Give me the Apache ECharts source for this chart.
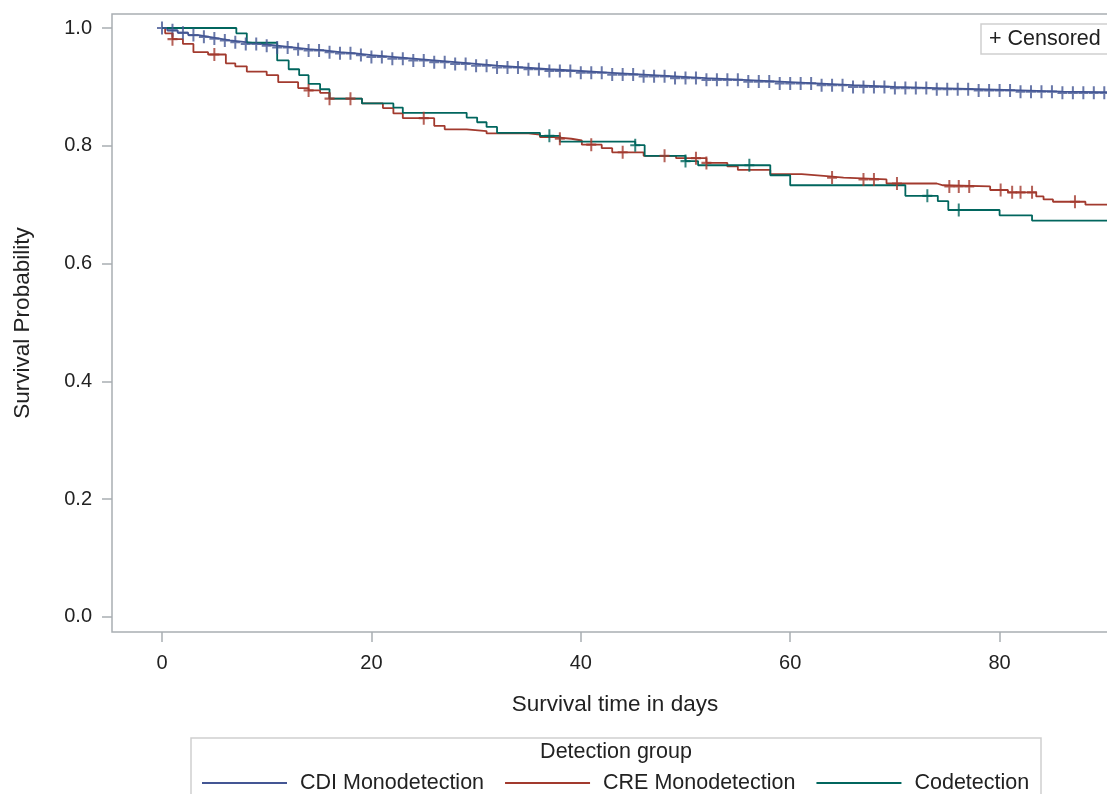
<!DOCTYPE html>
<html>
<head>
<meta charset="utf-8">
<script src="https://cdn.jsdelivr.net/npm/echarts@6/dist/echarts.min.js"></script>
<style>
  html, body { margin: 0; padding: 0; overflow: hidden; background: #fff; }
  #chart { width: 1230px; height: 794px; }
</style>
</head>
<body>
<div id="chart"></div>
<script>
// Kaplan-Meier step values (time in days, survival after the step)
const groups = ['CDI Monodetection', 'CRE Monodetection', 'Codetection']

const cdiTimes = [0, 0.5, 1.5, 2.5, 3.5, 4.5, 5.5, 6.5, 8, 9.5, 11, 12.5, 14, 15.5, 17, 18.5, 20, 22, 24, 26, 28, 30, 32, 34.5, 37, 40, 43, 46, 49, 52, 55.5, 59, 62.5, 66, 70, 74, 78, 82, 86, 95]
const cdiSurv = [1.0, 0.996, 0.992, 0.988, 0.985, 0.982, 0.979, 0.976, 0.973, 0.970, 0.967, 0.964, 0.962, 0.959, 0.957, 0.954, 0.951, 0.948, 0.945, 0.942, 0.939, 0.936, 0.933, 0.930, 0.927, 0.924, 0.921, 0.918, 0.915, 0.912, 0.909, 0.906, 0.903, 0.900, 0.898, 0.896, 0.894, 0.892, 0.890, 0.890]
const cdiCensored = [0, 1, 2, 3, 4, 5, 6, 7, 8, 9, 10, 11, 12, 13, 14, 15, 16, 17, 18, 19, 20, 21, 22, 23, 24, 25, 26, 27, 28, 29, 30, 31, 32, 33, 34, 35, 36, 37, 38, 39, 40, 41, 42, 43, 44, 45, 46, 47, 48, 49, 50, 51, 52, 53, 54, 55, 56, 57, 58, 59, 60, 61, 62, 63, 64, 65, 66, 67, 68, 69, 70, 71, 72, 73, 74, 75, 76, 77, 78, 79, 80, 81, 82, 83, 84, 85, 86, 87, 88, 89, 90]

const creTimes = [0, 0.3, 1.0, 2.0, 3.0, 4.4, 6.1, 7.0, 8.1, 10.0, 11.1, 13.0, 14.0, 15.1, 16.0, 19.1, 21.1, 22.1, 23.0, 26.0, 27.0, 29.1, 31.0, 35.0, 36.1, 37.2, 39.1, 40.1, 42.0, 43.0, 46.0, 49.1, 52.0, 54.0, 55.0, 58.1, 61.1, 63.2, 65.1, 69.2, 74.0, 74.6, 79.1, 80.8, 83.5, 84.2, 85.1, 88.2, 95]
const creSurv = [1.0, 0.991, 0.981, 0.973, 0.959, 0.955, 0.940, 0.935, 0.926, 0.920, 0.908, 0.898, 0.894, 0.890, 0.880, 0.872, 0.864, 0.855, 0.847, 0.834, 0.828, 0.825, 0.821, 0.819, 0.815, 0.812, 0.809, 0.802, 0.796, 0.789, 0.783, 0.779, 0.771, 0.765, 0.759, 0.752, 0.749, 0.746, 0.743, 0.736, 0.733, 0.731, 0.725, 0.721, 0.714, 0.709, 0.705, 0.700, 0.700]
const creCensored = [1, 5, 14, 16, 18, 25, 38, 41, 44, 48, 51, 52, 64, 67, 68, 70.2, 75.2, 76.1, 77.1, 80.1, 81.2, 82, 83.1, 87.2]

const coTimes = [0, 7.1, 8.1, 11.0, 12.1, 13.1, 14.0, 15.1, 16.0, 19.1, 22.1, 23.0, 29.1, 30.1, 31.0, 32.0, 36.1, 38.0, 45.2, 46.1, 50.0, 51.2, 58.1, 60.0, 71.0, 74.1, 75.1, 80.0, 83.1, 95]
const coSurv = [1.0, 0.991, 0.975, 0.945, 0.930, 0.920, 0.905, 0.896, 0.880, 0.872, 0.865, 0.856, 0.848, 0.840, 0.832, 0.822, 0.817, 0.807, 0.801, 0.783, 0.774, 0.767, 0.750, 0.733, 0.715, 0.706, 0.691, 0.682, 0.673, 0.673]
const coCensored = [37, 45.2, 50, 56.1, 73.1, 76.1]

const xTicks = [0, 20, 40, 60, 80]
const yTicks = [0, 0.2, 0.4, 0.6, 0.8, 1.0]

const colors = ['#445694', '#A23A2E', '#01665E']
const font = '"Liberation Sans", Arial, sans-serif'
const plus = 'path://M4,0H6V5H10V7H6V12H4V7H0V5H4Z'

const survAt = (times, surv, t) => {
  let v = surv[0]
  for (let i = 0; i < times.length; i++) {
    if (times[i] <= t) v = surv[i]
  }
  return v
}

const curves = [
  { times: cdiTimes, surv: cdiSurv, censored: cdiCensored },
  { times: creTimes, surv: creSurv, censored: creCensored },
  { times: coTimes, surv: coSurv, censored: coCensored }
]

const series = []
curves.forEach((c, i) => {
  series.push({
    name: groups[i],
    type: 'line',
    step: 'end',
    symbol: 'none',
    lineStyle: { width: 1.8, color: colors[i] },
    itemStyle: { color: colors[i] },
    data: c.times.map((t, k) => [t, c.surv[k]]),
    z: 2
  })
})
curves.forEach((c, i) => {
  series.push({
    name: groups[i] + ' censored',
    type: 'scatter',
    symbol: plus,
    symbolSize: [10, 13],
    itemStyle: { color: colors[i] },
    silent: true,
    data: c.censored.map(t => [t, survAt(c.times, c.surv, t)]),
    z: 3
  })
})

const chart = echarts.init(document.getElementById('chart'))
chart.setOption({
  animation: false,
  grid: { left: 112, top: 14, width: 1006, bottom: 162, show: true, borderColor: '#a9aeb3', borderWidth: 1.5 },
  xAxis: {
    type: 'value',
    min: -4.776,
    max: 91.31,
    name: 'Survival time in days',
    nameLocation: 'middle',
    nameGap: 61,
    nameTextStyle: { fontSize: 22.5, color: '#222', fontFamily: font },
    splitLine: { show: false },
    axisLine: { show: false, onZero: false },
    axisTick: { show: true, length: 10, customValues: xTicks, lineStyle: { color: '#a9aeb3', width: 1.5 } },
    axisLabel: { customValues: xTicks, margin: 21, fontSize: 20, color: '#222', fontFamily: font }
  },
  yAxis: {
    type: 'value',
    min: -0.0255,
    max: 1.0238,
    name: 'Survival Probability',
    nameLocation: 'middle',
    nameGap: 78,
    nameTextStyle: { fontSize: 22.5, color: '#222', fontFamily: font },
    splitLine: { show: false },
    axisLine: { show: false, onZero: false },
    axisTick: { show: true, length: 10, customValues: yTicks, lineStyle: { color: '#a9aeb3', width: 1.5 } },
    axisLabel: { customValues: yTicks, margin: 20, fontSize: 20, color: '#222', fontFamily: font, formatter: v => v.toFixed(1) }
  },
  legend: {
    data: groups,
    left: 197,
    top: 767,
    icon: 'rect',
    itemWidth: 85,
    itemHeight: 2,
    itemGap: 21,
    textStyle: { fontSize: 21.5, color: '#222', fontFamily: font, padding: [0, 0, 0, 8] }
  },
  graphic: [
    { type: 'rect', shape: { x: 191, y: 738, width: 850, height: 80 }, style: { fill: 'none', stroke: '#cfcfcf', lineWidth: 1.5 }, silent: true },
    { type: 'text', x: 616, y: 752, style: { text: 'Detection group', font: '21.5px ' + font, fill: '#222', textAlign: 'center', textVerticalAlign: 'middle' }, silent: true },
    { type: 'rect', shape: { x: 981, y: 24, width: 160, height: 30 }, style: { fill: '#fff', stroke: '#cfcfcf', lineWidth: 1.5 }, silent: true, z: 10 },
    { type: 'text', x: 989, y: 39, style: { text: '+ Censored', font: '21.5px ' + font, fill: '#222', textVerticalAlign: 'middle' }, silent: true, z: 11 }
  ],
  series
})
</script>
</body>
</html>
